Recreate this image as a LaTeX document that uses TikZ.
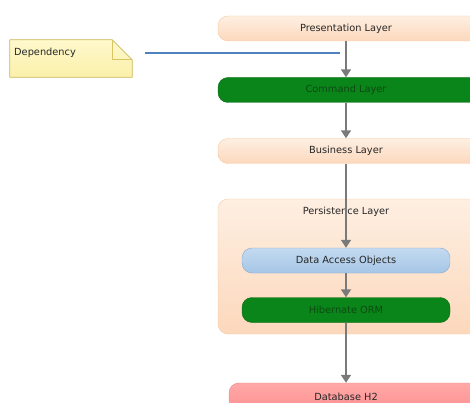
\documentclass[tikz,border=0pt]{standalone}
\usepackage{fontspec}
\setmainfont{DejaVu Sans}
\usetikzlibrary{arrows.meta,positioning}

\definecolor{peachtop}{HTML}{FEEFE2}
\definecolor{peachbot}{HTML}{FCD8BC}
\definecolor{peachline}{HTML}{F6C9A2}
\definecolor{greenfill}{HTML}{0A851A}
\definecolor{greenline}{HTML}{0B6614}
\definecolor{greentext}{HTML}{0E4A13}
\definecolor{bluetop}{HTML}{C3DAF0}
\definecolor{bluebot}{HTML}{A6C6E6}
\definecolor{blueline}{HTML}{84A9D0}
\definecolor{redtop}{HTML}{FFA8A8}
\definecolor{redbot}{HTML}{FF9292}
\definecolor{redline}{HTML}{E88484}
\definecolor{notetop}{HTML}{FEF8CC}
\definecolor{notebot}{HTML}{FBF0AA}
\definecolor{noteline}{HTML}{D8C463}
\definecolor{depline}{HTML}{4F81BD}
\definecolor{flowgray}{HTML}{7A7A7A}
\definecolor{labeltext}{HTML}{262626}

% boxes that run off the right edge keep their label at x=346:
% \shiftlabel moves the text left by half of its argument
\newcommand{\shiftlabel}[2]{\hspace*{-#1}#2}

\tikzset{
  x=1pt, y=-1pt,
  layer/.style={rounded corners=10pt, minimum height=25pt, inner sep=0pt,
    font=\fontsize{9.8}{11}\selectfont, text=labeltext},
  peach/.style={layer, draw=peachline, top color=peachtop, bottom color=peachbot},
  greenbox/.style={layer, draw=greenline, fill=greenfill, text=greentext},
  bluebox/.style={layer, draw=blueline, top color=bluetop, bottom color=bluebot},
  redbox/.style={layer, draw=redline, top color=redtop, bottom color=redbot},
  container/.style={rounded corners=10pt, inner sep=0pt, draw=peachline,
    top color=peachtop, bottom color=peachbot},
  flow/.style={draw=flowgray, line width=1.6pt,
    -{Triangle[width=10pt,length=8pt]}},
}

\begin{document}
\begin{tikzpicture}
\useasboundingbox (0,0) rectangle (470,403);

% layers (218 .. 486, label centred on 346)
\node[peach, minimum width=268pt] (pres) at (352,28.5) {\shiftlabel{12pt}{Presentation Layer}};
\node[greenbox, minimum width=268pt] (cmd) at (352,90) {\shiftlabel{12pt}{Command Layer}};
\node[peach, minimum width=268pt] (bus) at (352,151) {\shiftlabel{12pt}{Business Layer}};

% persistence container with its two inner layers
\node[container, minimum width=268pt, minimum height=135pt] (pers) at (352,266.5) {};
\node[font=\fontsize{9.8}{11}\selectfont, text=labeltext] (perslabel) at (346,212) {Persistence Layer};
\node[bluebox, minimum width=208pt] (dao) at (346,260.5) {Data Access Objects};
\node[greenbox, minimum width=208pt] (orm) at (346,310) {Hibernate ORM};

% 229 .. 489, label centred on 346
\node[redbox, minimum width=260pt, minimum height=27pt] (db) at (359,396.5) {\shiftlabel{26pt}{Database H2}};

% note with folded corner
\node[minimum width=122pt, minimum height=37pt, inner sep=0pt] (note) at (71,58.5) {};
\fill[top color=notetop, bottom color=notebot]
  (note.north west) -- ([xshift=-20pt]note.north east) -- ([yshift=-20pt]note.north east)
  -- (note.south east) -- (note.south west) -- cycle;
\draw[noteline, line width=0.8pt, line join=round]
  (note.north west) -- ([xshift=-20pt]note.north east) -- ([yshift=-20pt]note.north east)
  -- (note.south east) -- (note.south west) -- cycle;
\draw[noteline, line width=0.8pt, line join=round]
  ([xshift=-20pt]note.north east) -- ([xshift=-20pt,yshift=-20pt]note.north east)
  -- ([yshift=-20pt]note.north east);
\node[anchor=west, inner sep=0pt, font=\fontsize{9.8}{11}\selectfont, text=labeltext]
  (notetext) at (14,52.5) {Dependency};

% dependency line
\coordinate (depstart) at (145,53);
\coordinate (depend) at (340,53);
\draw[depline, line width=1.5pt] (depstart) -- (depend);

% flow arrows down the stack
\draw[flow] (pres.south -| dao.north) -- (cmd.north -| dao.north);
\draw[flow] (cmd.south -| dao.north) -- (bus.north -| dao.north);
\draw[flow] (bus.south -| dao.north) -- (dao.north);
\draw[flow] (dao.south) -- (orm.north);
\draw[flow] (orm.south) -- (db.north -| orm.south);
\end{tikzpicture}
\end{document}
